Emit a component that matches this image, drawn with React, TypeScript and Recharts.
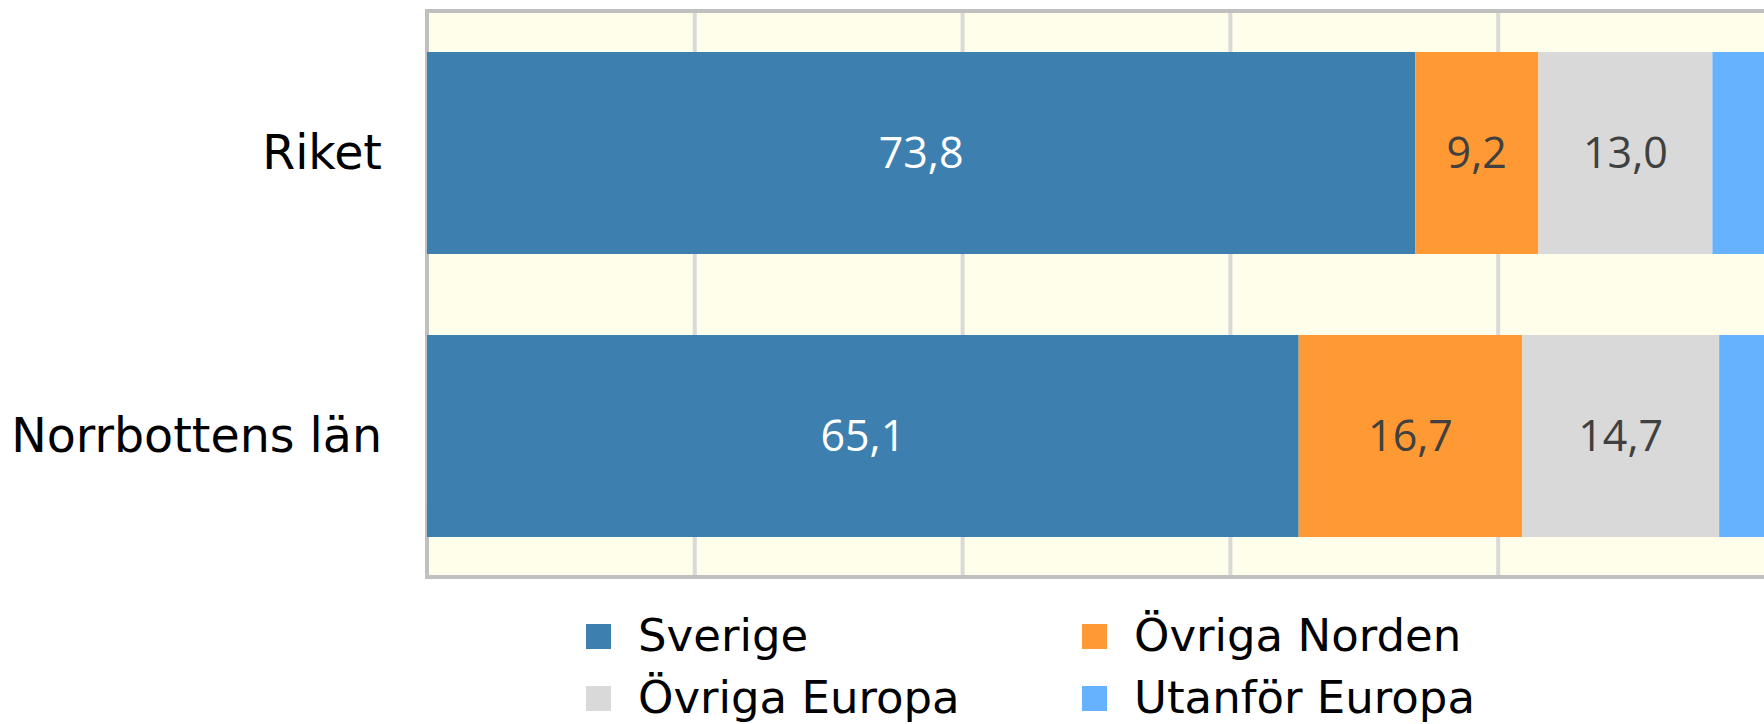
import React from 'react';
import { BarChart, Bar, XAxis, YAxis, CartesianGrid, Legend, LabelList, ReferenceArea } from 'recharts';

const regions = ['Riket', 'Norrbottens län'];
const seriesNames = ['Sverige', 'Övriga Norden', 'Övriga Europa', 'Utanför Europa'];
const sverige = [73.8, 65.1];
const ovrigaNorden = [9.2, 16.7];
const ovrigaEuropa = [13.0, 14.7];
const utanforEuropa = [4.0, 3.5];
const xTicks = [0, 20, 40, 60, 80, 100];

const data = regions.map((region, i) => ({
  region,
  sverige: sverige[i],
  ovrigaNorden: ovrigaNorden[i],
  ovrigaEuropa: ovrigaEuropa[i],
  utanforEuropa: utanforEuropa[i],
}));

const fmt = (v: any) => (typeof v === 'number' ? v.toFixed(1).replace('.', ',') : v);

const LABEL_FONT = '"Open Sans", "Noto Sans", sans-serif';
const AXIS_FONT = '"DejaVu Sans", Verdana, sans-serif';

const renderLegend = (props: any) => {
  const payload = [...(props.payload || [])].sort(
    (a: any, b: any) => seriesNames.indexOf(a.value) - seriesNames.indexOf(b.value)
  );
  return (
    <div style={{ display: 'grid', gridTemplateColumns: '496px 496px' }}>
      {payload.map((p: any) => (
        <div key={p.value} style={{ display: 'flex', alignItems: 'center', height: 62 }}>
          <span style={{ display: 'inline-block', width: 25, height: 25, background: p.color, marginRight: 27, flex: 'none' }} />
          <span style={{ fontFamily: AXIS_FONT, fontSize: 45, color: '#000', lineHeight: '62px', whiteSpace: 'nowrap' }}>{p.value}</span>
        </div>
      ))}
    </div>
  );
};

export default function App() {
  return (
    <div style={{ position: 'absolute', left: 0, top: 0, width: 1764, height: 724, overflow: 'hidden', background: '#fff' }}>
      <BarChart
        width={1780}
        height={724}
        data={data}
        layout="vertical"
        margin={{ top: 11, right: 14, bottom: 147, left: 0 }}
        barSize={202}
      >
        <CartesianGrid horizontal={false} stroke="#D9D9D9" strokeWidth={4} fill="#FEFEEB" />
        <XAxis type="number" domain={[0, 100]} ticks={xTicks} hide />
        <YAxis
          type="category"
          dataKey="region"
          width={427}
          axisLine={false}
          tickLine={false}
          tickSize={0}
          tickMargin={45}
          tick={{ fontFamily: AXIS_FONT, fontSize: 47.5, fill: '#000' }}
        />
        <ReferenceArea x1={0} x2={100} fill="none" stroke="#C0C0C0" strokeWidth={4} />
        <Legend
          layout="horizontal"
          verticalAlign="middle"
          align="center"
          content={renderLegend}
          wrapperStyle={{ left: 586, top: 605, width: 1000, height: 124 }}
        />
        <Bar dataKey="sverige" name={seriesNames[0]} stackId="a" fill="#3D7FAF" isAnimationActive={false}>
          <LabelList dataKey="sverige" position="center" formatter={fmt} fill="#FFFFFF" style={{ fontFamily: LABEL_FONT, fontSize: 43 }} />
        </Bar>
        <Bar dataKey="ovrigaNorden" name={seriesNames[1]} stackId="a" fill="#FF9933" isAnimationActive={false}>
          <LabelList dataKey="ovrigaNorden" position="center" formatter={fmt} fill="#404040" style={{ fontFamily: LABEL_FONT, fontSize: 43 }} />
        </Bar>
        <Bar dataKey="ovrigaEuropa" name={seriesNames[2]} stackId="a" fill="#D9D9D9" isAnimationActive={false}>
          <LabelList dataKey="ovrigaEuropa" position="center" formatter={fmt} fill="#404040" style={{ fontFamily: LABEL_FONT, fontSize: 43 }} />
        </Bar>
        <Bar dataKey="utanforEuropa" name={seriesNames[3]} stackId="a" fill="#66B2FF" isAnimationActive={false} />
      </BarChart>
    </div>
  );
}
